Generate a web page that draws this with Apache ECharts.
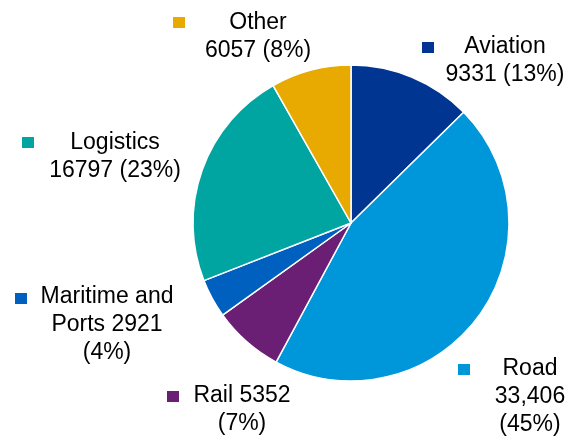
<!DOCTYPE html>
<html>
<head>
<meta charset="utf-8">
<script src="https://cdn.jsdelivr.net/npm/echarts@6/dist/echarts.min.js"></script>
<style>
  html, body { margin: 0; padding: 0; background: #fff; }
  #chart { width: 572px; height: 438px; }
</style>
</head>
<body>
<div id="chart"></div>
<script>
// Sector sizes, clockwise from twelve o'clock
const categories = ['Aviation', 'Road', 'Rail', 'Maritime and Ports', 'Logistics', 'Other'];
const values = [9331, 33406, 5352, 2921, 16797, 6057];
const colors = ['#003591', '#0096DA', '#6A1E74', '#0060BF', '#00A4A0', '#E8A900'];

// Label text layout: {v} plain value, {vs} value with thousands separator, {p} percent
const labelTemplates = [
  'Aviation\n{v} ({p}%)',
  'Road\n{vs}\n({p}%)',
  'Rail {v}\n({p}%)',
  'Maritime and\nPorts {v}\n({p}%)',
  'Logistics\n{v} ({p}%)',
  'Other\n{v} ({p}%)'
];

// Label block centres and marker corners (pixels)
const labelPos = [[505, 61], [530, 397], [242, 410], [107, 325], [115, 157], [258, 37]];
const markerPos = [[422, 42], [458, 364], [167, 391], [15, 293], [22, 137], [173, 17]];

const total = values.reduce((a, b) => a + b, 0);

const legends = categories.map((name, i) => ({
  data: [name],
  left: markerPos[i][0],
  top: markerPos[i][1],
  padding: 0,
  itemWidth: 12,
  itemHeight: 11,
  icon: 'rect',
  itemStyle: { borderWidth: 0 },
  selectedMode: false,
  formatter: () => '',
  textStyle: { fontSize: 1 }
}));

const chart = echarts.init(document.getElementById('chart'));
chart.setOption({
  backgroundColor: '#fff',
  animation: false,
  legend: legends,
  series: [{
    type: 'pie',
    center: [351, 223],
    radius: 158,
    startAngle: 90,
    clockwise: true,
    itemStyle: { borderColor: '#fff', borderWidth: 1.5 },
    emphasis: { disabled: true },
    labelLine: { show: false },
    label: {
      show: true,
      position: 'outside',
      overflow: 'none',
      color: '#000',
      fontFamily: 'Liberation Sans, Arial, sans-serif',
      fontSize: 23,
      lineHeight: 28,
      align: 'center',
      formatter: (p) => {
        const v = values[p.dataIndex];
        const pct = Math.round(v / total * 100);
        return labelTemplates[p.dataIndex]
          .replace('{vs}', v.toLocaleString('en-US'))
          .replace('{v}', String(v))
          .replace('{p}', String(pct));
      }
    },
    labelLayout: (p) => ({
      x: labelPos[p.dataIndex][0],
      y: labelPos[p.dataIndex][1],
      align: 'center',
      verticalAlign: 'middle'
    }),
    data: categories.map((name, i) => ({
      name,
      value: values[i],
      itemStyle: { color: colors[i] }
    }))
  }]
});
</script>
</body>
</html>
